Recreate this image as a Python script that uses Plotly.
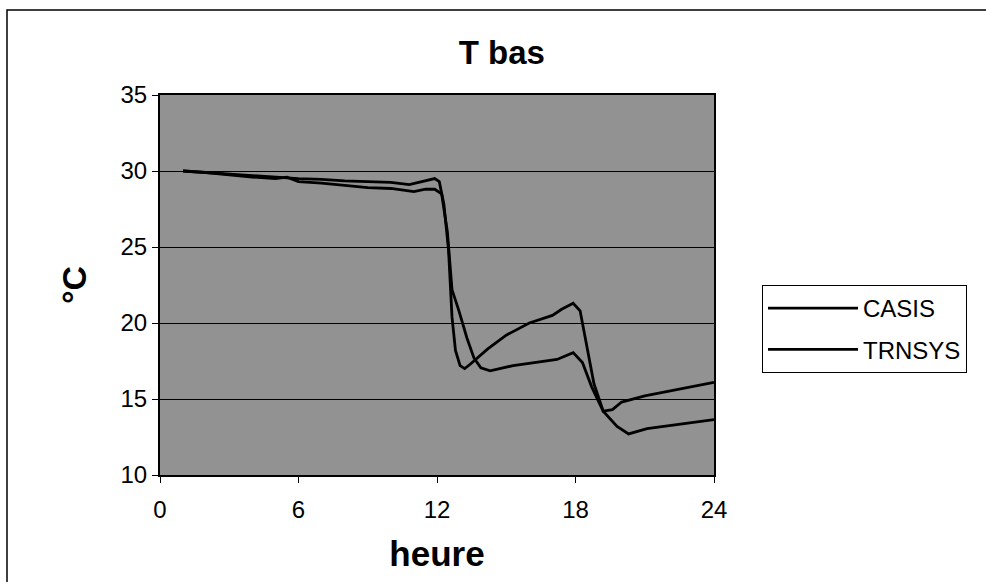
import plotly.graph_objects as go

# CASIS series (hours, °C)
casis_h = [1, 2, 3, 4, 5, 6, 7, 8, 9, 10, 10.8, 11.4, 11.9, 12.1, 12.3, 12.5, 12.65, 12.8,
           13.0, 13.2, 13.45, 14.2, 15, 16, 17, 17.4, 17.9, 18.2, 18.5, 18.8, 19.2, 19.6,
           20, 21, 22, 23, 24]
casis_t = [30, 29.9, 29.8, 29.7, 29.6, 29.5, 29.45, 29.35, 29.3, 29.25, 29.1, 29.3, 29.5,
           29.3, 27.8, 24.8, 20.4, 18.2, 17.2, 17.0, 17.3, 18.3, 19.2, 20.0, 20.5, 20.9,
           21.3, 20.8, 18.5, 16.0, 14.2, 14.3, 14.8, 15.2, 15.5, 15.8, 16.1]

# TRNSYS series (hours, °C)
trnsys_h = [1, 2, 3, 4, 5, 5.5, 6, 7, 8, 9, 10, 11, 11.5, 11.9, 12.2, 12.45, 12.65, 12.95,
            13.3, 13.6, 13.9, 14.3, 15.3, 16.5, 17.2, 17.9, 18.3, 18.7, 19.2, 19.8, 20.3,
            21.1, 22, 23, 24]
trnsys_t = [30, 29.9, 29.75, 29.6, 29.5, 29.6, 29.3, 29.2, 29.05, 28.9, 28.85, 28.65, 28.8,
            28.8, 28.5, 26, 22.2, 20.8, 19.0, 17.7, 17.05, 16.85, 17.2, 17.45, 17.6, 18.05,
            17.4, 15.8, 14.2, 13.2, 12.7, 13.05, 13.25, 13.45, 13.65]

x_ticks = [0, 6, 12, 18, 24]
y_ticks = [10, 15, 20, 25, 30, 35]

FONT = "Liberation Sans, Arial, sans-serif"

fig = go.Figure()
fig.add_trace(go.Scatter(x=casis_h, y=casis_t, mode="lines", name="CASIS",
                         legendgroup="a", line=dict(color="black", width=2.8)))
fig.add_trace(go.Scatter(x=trnsys_h, y=trnsys_t, mode="lines", name="TRNSYS",
                         legendgroup="b", line=dict(color="black", width=2.8)))

fig.update_layout(
    width=986, height=582,
    margin=dict(l=160, r=272, t=95, b=107),
    paper_bgcolor="white",
    plot_bgcolor="#929292",
    font=dict(family=FONT, color="black", size=24),
    title=dict(text="<b>T bas</b>", x=0.509, xanchor="center", y=1 - 52 / 582,
               yanchor="middle", font=dict(size=33)),
    showlegend=True,
    legend=dict(x=(762 - 160) / 554, y=(475 - 285) / 380, xanchor="left", yanchor="top",
                bgcolor="white", bordercolor="black", borderwidth=1,
                font=dict(size=24), tracegroupgap=7, itemwidth=90,
                traceorder="grouped"),
    xaxis=dict(range=[0, 24], tickvals=x_ticks, showgrid=False, zeroline=False,
               ticks="outside", ticklen=6, tickcolor="black", showline=True,
               linecolor="black", linewidth=2, mirror=True, ticklabelstandoff=6,
               title=dict(text="<b>heure</b>", font=dict(size=35), standoff=20)),
    yaxis=dict(range=[10, 35], tickvals=y_ticks, showgrid=True, gridcolor="black",
               gridwidth=1, zeroline=False, ticks="outside", ticklen=6, tickcolor="black",
               showline=True, linecolor="black", linewidth=2, mirror=True,
               title=dict(text="<b>°C</b>", font=dict(size=34), standoff=24)),
)

# outer chart border
fig.add_shape(type="rect", xref="paper", yref="paper",
              x0=(7 - 160) / 554, x1=(1030 - 160) / 554,
              y0=(475 - 600) / 380, y1=(475 - 10) / 380,
              line=dict(color="black", width=1.5), fillcolor="rgba(0,0,0,0)", layer="below")

fig.write_html("out.html")
